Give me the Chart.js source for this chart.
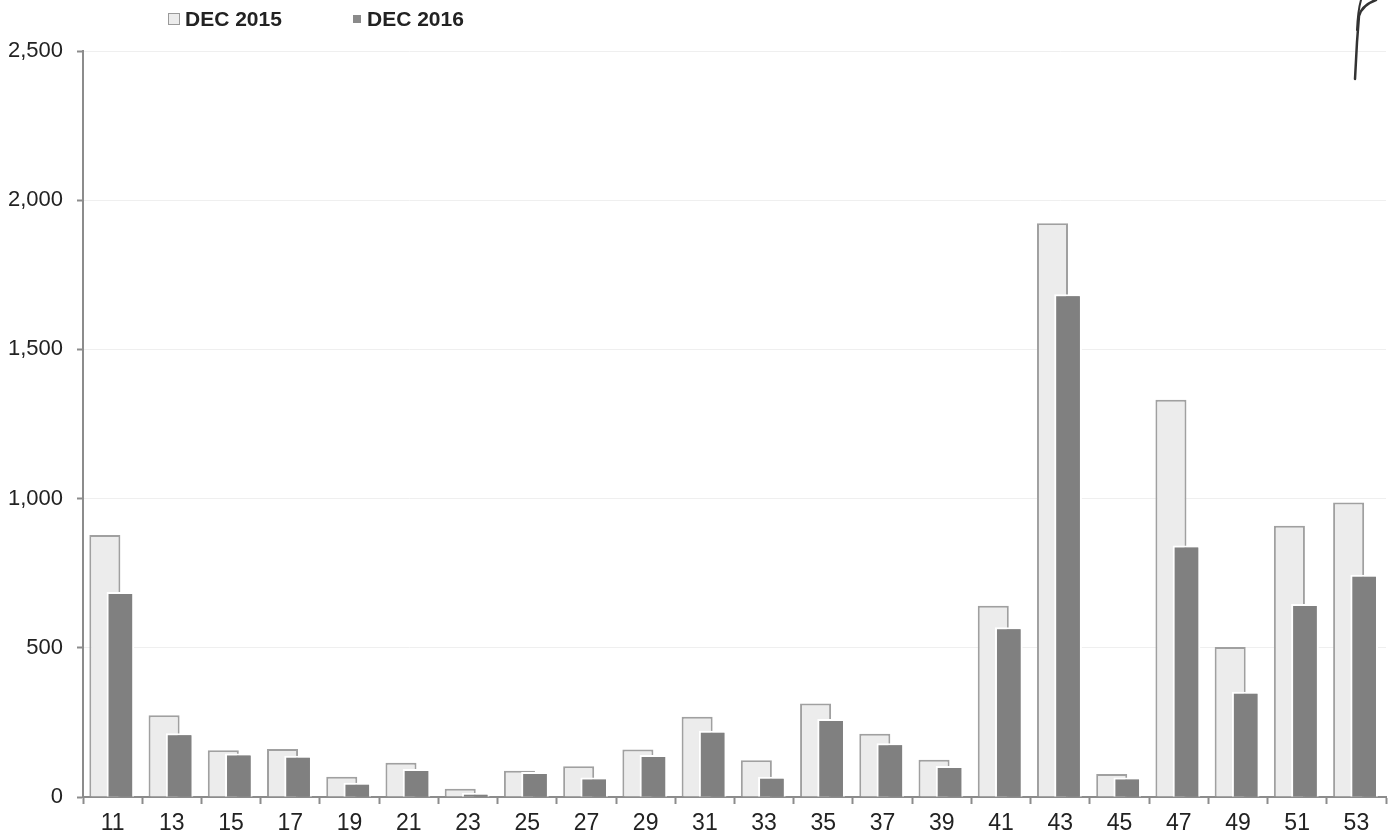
<!DOCTYPE html>
<html>
<head>
<meta charset="utf-8">
<title>DEC 2015 / DEC 2016</title>
<script src="https://cdn.jsdelivr.net/npm/chart.js@4.4.1/dist/chart.umd.min.js"></script>
<style>
  html, body { margin: 0; padding: 0; background: #fff; }
  #wrap { position: relative; width: 1394px; height: 838px; }
  #legend { position: absolute; left: 0; top: 0; font: bold 21px "Liberation Sans", Arial, sans-serif; color: #222; }
  #legend .item { position: absolute; top: 7px; white-space: nowrap; line-height: 24px; }
  #legend .box { position: absolute; box-sizing: border-box; }
  #mark { position: absolute; left: 0; top: 0; pointer-events: none; }
</style>
</head>
<body>
<div id="wrap">
  <canvas id="history" width="1394" height="838"></canvas>
  <div id="legend"></div>
  <svg id="mark" width="1394" height="838">
    <path d="M1355 79 L1357 42 L1359 16 Q1362 5 1376 0" fill="none" stroke="#333" stroke-width="2.5" stroke-linecap="round"/>
    <path d="M1357 30 Q1358 10 1361 0" fill="none" stroke="#333" stroke-width="2" stroke-linecap="round"/>
  </svg>
</div>
<script>
var categories = ['11', '13', '15', '17', '19', '21', '23', '25', '27', '29', '31',
                  '33', '35', '37', '39', '41', '43', '45', '47', '49', '51', '53'];
var seriesNames = ['DEC 2015', 'DEC 2016'];
var dec2015 = [878, 274, 157, 161, 68, 115, 28, 88, 103, 159, 269,
               123, 313, 212, 125, 641, 1923, 77, 1331, 503, 909, 987];
var dec2016 = [687, 214, 146, 138, 48, 94, 13, 84, 65, 141, 222,
               68, 261, 180, 104, 569, 1685, 65, 843, 353, 647, 745];
var yTicks = [0, 500, 1000, 1500, 2000, 2500];

var FONT = '"Liberation Sans", Arial, sans-serif';
var AXIS = '#8c8c8c';

// second series overlaps the first one, so paint its bars again on top
var overlapPlugin = {
  id: 'overlap',
  afterDatasetsDraw: function(chart) {
    var ctx = chart.ctx;
    var area = chart.chartArea;
    ctx.save();
    ctx.beginPath();
    ctx.rect(area.left, area.top, area.right - area.left, area.bottom - area.top);
    ctx.clip();
    chart.getDatasetMeta(1).data.forEach(function(bar) {
      bar.draw(ctx);
    });
    ctx.restore();
  }
};

function buildLegend() {
  var legend = document.getElementById('legend');
  var items = [
    { text: seriesNames[0], x: 168, box: { left: 0, top: 6, size: 12, bg: '#ececec', border: '1px solid #9a9a9a' }, textX: 17 },
    { text: seriesNames[1], x: 353, box: { left: 0, top: 8, size: 8, bg: '#8a8a8a', border: 'none' }, textX: 14 }
  ];
  items.forEach(function(it) {
    var item = document.createElement('div');
    item.className = 'item';
    item.style.left = it.x + 'px';
    var box = document.createElement('span');
    box.className = 'box';
    box.style.left = it.box.left + 'px';
    box.style.top = it.box.top + 'px';
    box.style.width = it.box.size + 'px';
    box.style.height = it.box.size + 'px';
    box.style.background = it.box.bg;
    box.style.border = it.box.border;
    var label = document.createElement('span');
    label.style.marginLeft = it.textX + 'px';
    label.textContent = it.text;
    item.appendChild(box);
    item.appendChild(label);
    legend.appendChild(item);
  });
}

function drawChart(chartId) {
  var history = document.getElementById(chartId);
  var historyData = {
    labels: categories,
    datasets: [{
      label: seriesNames[0],
      data: dec2015,
      backgroundColor: '#ececec',
      borderColor: '#a0a0a0',
      borderWidth: 2,
      borderSkipped: 'bottom',
      barPercentage: 2.0,
      categoryPercentage: 0.524
    }, {
      label: seriesNames[1],
      data: dec2016,
      backgroundColor: '#808080',
      borderColor: '#ffffff',
      borderWidth: 2,
      borderSkipped: 'bottom',
      barPercentage: 1.78,
      categoryPercentage: 0.524
    }]
  };
  return new Chart(history, {
    type: 'bar',
    data: historyData,
    plugins: [overlapPlugin],
    options: {
      responsive: false,
      animation: false,
      layout: { padding: { top: 51, right: 8, left: 0, bottom: 0 } },
      plugins: {
        legend: { display: false },
        tooltip: { enabled: false }
      },
      scales: {
        x: {
          afterFit: function(scale) { scale.height = 41; },
          grid: {
            offset: true,
            drawOnChartArea: false,
            drawTicks: true,
            tickLength: 7,
            tickColor: AXIS,
            tickWidth: 2
          },
          border: { display: true, color: AXIS, width: 2 },
          ticks: {
            color: '#222',
            padding: 6,
            maxRotation: 0,
            autoSkip: false,
            font: { family: FONT, size: 23 }
          }
        },
        y: {
          min: 0,
          max: 2500,
          afterFit: function(scale) { scale.width = 83; },
          afterBuildTicks: function(scale) {
            scale.ticks = yTicks.map(function(v) { return { value: v }; });
          },
          grid: {
            color: '#efefef',
            lineWidth: 1,
            drawTicks: true,
            tickLength: 6,
            tickColor: AXIS,
            tickWidth: 2
          },
          border: { display: true, color: AXIS, width: 2 },
          ticks: {
            color: '#222',
            padding: 14,
            font: { family: FONT, size: 22 },
            callback: function(value) {
              return Number(value).toLocaleString('en-US');
            }
          }
        }
      }
    }
  });
}

buildLegend();
drawChart('history');
</script>
</body>
</html>
